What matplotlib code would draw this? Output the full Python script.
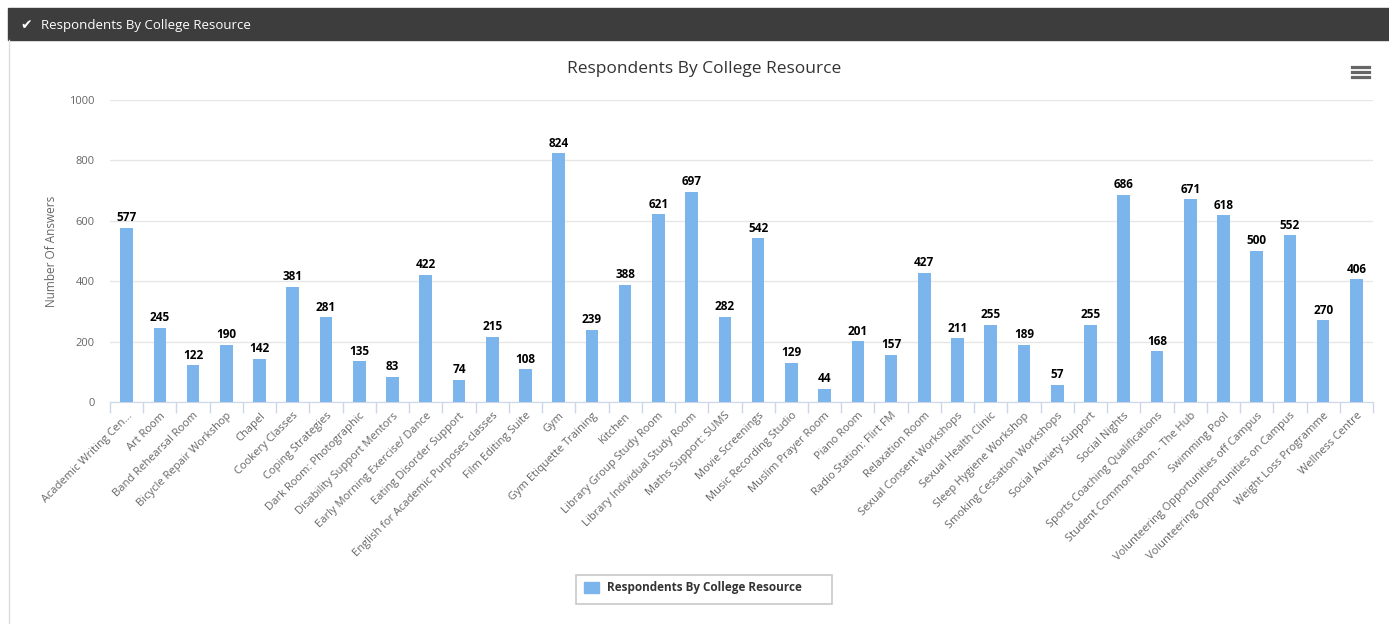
import matplotlib.pyplot as plt
import matplotlib.patches as mpatches
import numpy as np

plt.rcParams['font.family'] = ['Open Sans', 'DejaVu Sans']

categories = [
	"Academic Writing Cen...", "Art Room", "Band Rehearsal Room", "Bicycle Repair Workshop",
	"Chapel", "Cookery Classes", "Coping Strategies", "Dark Room: Photographic",
	"Disability Support Mentors", "Early Morning Exercise/ Dance", "Eating Disorder Support",
	"English for Academic Purposes classes", "Film Editing Suite", "Gym", "Gym Etiquette Training",
	"Kitchen", "Library Group Study Room", "Library Individual Study Room", "Maths Support: SUMS",
	"Movie Screenings", "Music Recording Studio", "Muslim Prayer Room", "Piano Room",
	"Radio Station: Flirt FM", "Relaxation Room", "Sexual Consent Workshops", "Sexual Health Clinic",
	"Sleep Hygiene Workshop", "Smoking Cessation Workshops", "Social Anxiety Support", "Social Nights",
	"Sports Coaching Qualifications", "Student Common Room - The Hub", "Swimming Pool",
	"Volunteering Opportunities off Campus", "Volunteering Opportunities on Campus",
	"Weight Loss Programme", "Wellness Centre",
]
answers = [
	577, 245, 122, 190, 142, 381, 281, 135, 83, 422, 74, 215, 108, 824, 239, 388, 621, 697,
	282, 542, 129, 44, 201, 157, 427, 211, 255, 189, 57, 255, 686, 168, 671, 618, 500, 552,
	270, 406,
]
y_ticks = [0, 200, 400, 600, 800, 1000]
title = "Respondents By College Resource"

W, H = 1389, 624
fig = plt.figure(figsize=(W / 100, H / 100), dpi=100)

# panel header bar
fig.patches.append(mpatches.Rectangle((8 / W, 1 - 40 / H), 1 - 8 / W, 32 / H,
	transform=fig.transFigure, color="#3d3d3d", zorder=0))
fig.lines.append(plt.Line2D([8.5 / W, 8.5 / W], [0, 1 - 40 / H], transform=fig.transFigure,
	color="#dddddd", linewidth=1))
fig.text(20 / W, 1 - 25 / H, "\u2714", color="white", fontsize=10, va="center",
	family=['DejaVu Sans'])
fig.text(41 / W, 1 - 25 / H, title, color="white", fontsize=9.5, va="center")

# chart title
fig.text(704 / W, 1 - 69 / H, title, color="#333333", fontsize=12.5, ha="center", va="center")

# menu icon
for yy in [67, 72, 77]:
	fig.lines.append(plt.Line2D([1352 / W, 1369 / W], [1 - yy / H, 1 - yy / H],
		transform=fig.transFigure, color="#666666", linewidth=2.3))

ax = fig.add_axes([110 / W, 1 - 402 / H, (1373 - 110) / W, (402 - 100) / H])
x = np.arange(len(categories))
ax.bar(x, answers, width=0.38, color="#7cb5ec", zorder=3)
for xi, v in zip(x, answers):
	ax.text(xi, v + 12, str(v), ha="center", va="bottom", fontsize=8.5, fontweight="bold",
		color="#000000", zorder=4)

ax.set_xlim(-0.5, len(categories) - 0.5)
ax.set_ylim(0, 1000)
ax.set_yticks(y_ticks)
ax.set_yticklabels([str(t) for t in y_ticks], color="#666666", fontsize=8)
ax.yaxis.grid(True, color="#e6e6e6", linewidth=1, zorder=0)
ax.tick_params(axis="y", length=0, pad=11)
ax.set_ylabel("Number Of Answers", color="#666666", fontsize=8.5, labelpad=8)

ax.set_xticks(x)
ax.set_xticklabels(categories, rotation=45, ha="right", rotation_mode="anchor",
	color="#666666", fontsize=8)
ax.tick_params(axis="x", length=0, pad=6)
ax.set_xticks(np.arange(len(categories) + 1) - 0.5, minor=True)
ax.tick_params(axis="x", which="minor", length=8, color="#ccd6eb", width=1)

for s in ["top", "right", "left"]:
	ax.spines[s].set_visible(False)
ax.spines["bottom"].set_color("#ccd6eb")

# legend
fig.patches.append(mpatches.FancyBboxPatch((576 / W, 1 - 604 / H), 256 / W, 29 / H,
	boxstyle="square,pad=0", transform=fig.transFigure, facecolor="white",
	edgecolor="#c8c8c8", linewidth=1.2))
fig.patches.append(mpatches.Rectangle((584 / W, 1 - 593 / H), 15 / W, 11 / H,
	transform=fig.transFigure, color="#7cb5ec"))
fig.text(607 / W, 1 - 588 / H, title, color="#333333", fontsize=8.5, fontweight="bold",
	va="center")

fig.savefig("out.png", dpi=100)
